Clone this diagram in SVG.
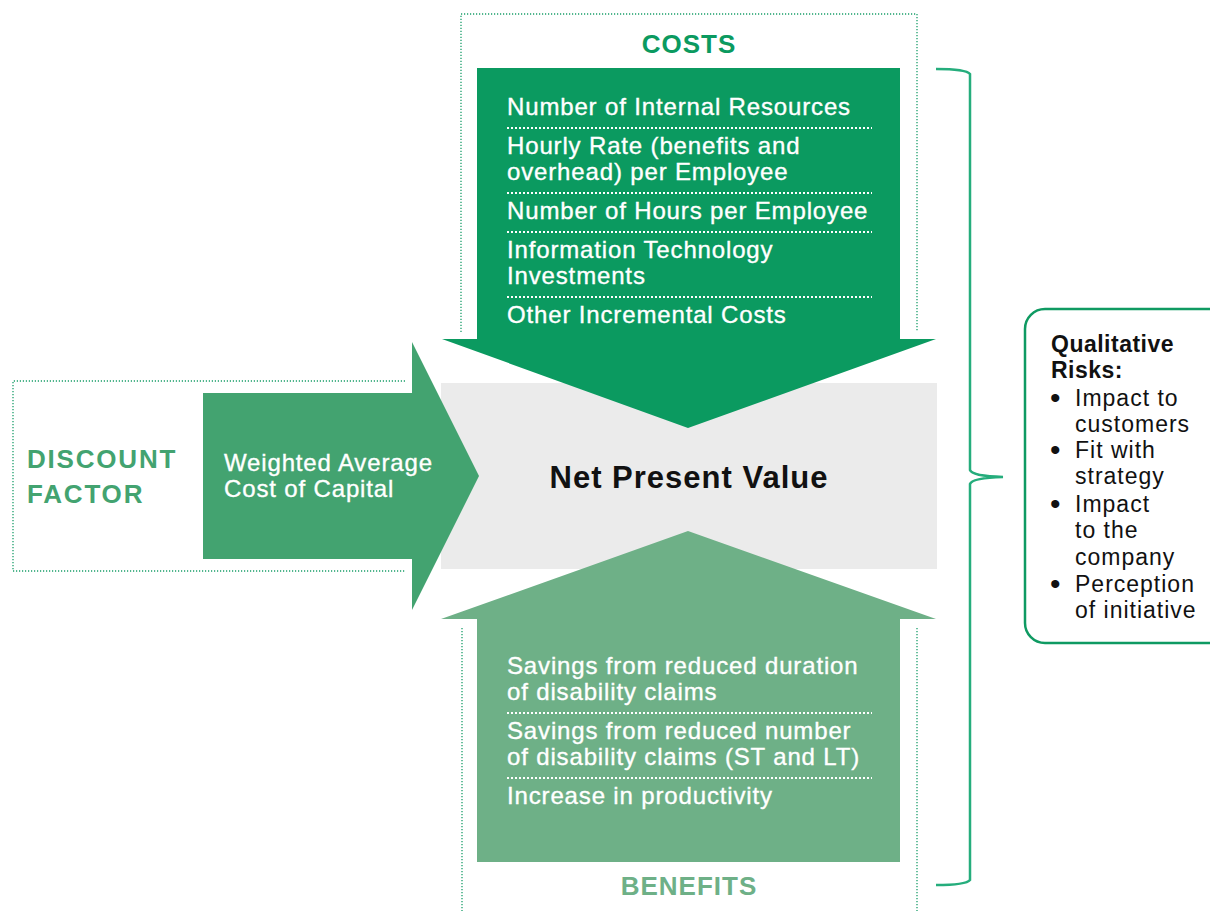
<svg xmlns="http://www.w3.org/2000/svg" width="1210" height="911" viewBox="0 0 1210 911">
<style>
.frame{fill:none;stroke:#1a9e6a;stroke-width:1.3;stroke-dasharray:1.2 1.8}
.sep{fill:none;stroke:#ffffff;stroke-width:2;stroke-dasharray:2 2}
.wt{font-family:"Liberation Sans",Arial,sans-serif;font-size:24px;fill:#ffffff;stroke:#ffffff;stroke-width:0.35;letter-spacing:0.85px}
.hd{font-family:"Liberation Sans",Arial,sans-serif;font-size:26px;font-weight:bold;letter-spacing:1px}
.df{letter-spacing:1.8px}
.rk{font-family:"Liberation Sans",Arial,sans-serif;font-size:23px;fill:#111111;letter-spacing:1px}
.bl{font-family:"Liberation Sans",Arial,sans-serif;font-size:30px;fill:#111111}
.rkb{font-family:"Liberation Sans",Arial,sans-serif;font-size:23px;font-weight:bold;fill:#111111;letter-spacing:0.5px}
</style>
<rect width="1210" height="911" fill="#ffffff"/>

<g id="npv">
<rect x="441" y="383" width="496" height="186" fill="#ebebeb"/>
<text x="689" y="488" text-anchor="middle" font-family="'Liberation Sans',Arial,sans-serif" font-size="31" font-weight="bold" letter-spacing="1" fill="#111111">Net Present Value</text>
</g>

<g id="costs">
<path class="frame" d="M461,332 V14 H917 V332"/>
<text class="hd" x="689" y="53" text-anchor="middle" fill="#0b9a60">COSTS</text>
<path d="M477,68 H900 V339 H936 L688,428 L442,339 H477 Z" fill="#0b9a60"/>
<text class="wt" x="507" y="115">Number of Internal Resources</text>
<line class="sep" x1="507" y1="128" x2="872" y2="128"/>
<text class="wt" x="507" y="154">Hourly Rate (benefits and</text>
<text class="wt" x="507" y="180">overhead) per Employee</text>
<line class="sep" x1="507" y1="193" x2="872" y2="193"/>
<text class="wt" x="507" y="219">Number of Hours per Employee</text>
<line class="sep" x1="507" y1="232" x2="872" y2="232"/>
<text class="wt" x="507" y="258">Information Technology</text>
<text class="wt" x="507" y="284">Investments</text>
<line class="sep" x1="507" y1="297" x2="872" y2="297"/>
<text class="wt" x="507" y="323">Other Incremental Costs</text>
</g>

<g id="discount">
<path class="frame" d="M405,381 H13 V571 H405"/>
<text class="hd df" x="27" y="468" fill="#43a370">DISCOUNT</text>
<text class="hd df" x="27" y="503" fill="#43a370">FACTOR</text>
<path d="M203,393 H412 V342 L479,476 L412,610 V559 H203 Z" fill="#43a370"/>
<text class="wt" x="224" y="471">Weighted Average</text>
<text class="wt" x="224" y="497">Cost of Capital</text>
</g>

<g id="benefits">
<path class="frame" d="M462,628 V911 M917,628 V911"/>
<path d="M688,531 L936,619 H900 V862 H477 V619 H441 Z" fill="#6eb087"/>
<text class="wt" x="507" y="674">Savings from reduced duration</text>
<text class="wt" x="507" y="700">of disability claims</text>
<line class="sep" x1="507" y1="713" x2="872" y2="713"/>
<text class="wt" x="507" y="739">Savings from reduced number</text>
<text class="wt" x="507" y="765">of disability claims (ST and LT)</text>
<line class="sep" x1="507" y1="778" x2="872" y2="778"/>
<text class="wt" x="507" y="804">Increase in productivity</text>
<text class="hd" x="689" y="895" text-anchor="middle" fill="#6eb087">BENEFITS</text>
</g>

<g id="connectors">
<path d="M936,69 Q966,69 970,74 V470 Q972,476 1003,477 Q972,478 970,484 V880 Q966,885 936,885" fill="none" stroke="#25ad7c" stroke-width="2.5"/>
</g>

<g id="risks">
<rect x="1025" y="309" width="215" height="334" rx="20" ry="20" fill="#ffffff" stroke="#0f9a62" stroke-width="2.5"/>
<text class="rkb" x="1051" y="352">Qualitative</text>
<text class="rkb" x="1051" y="378">Risks:</text>
<text class="bl" x="1050" y="408">•</text>
<text class="rk" x="1075" y="406">Impact to</text>
<text class="rk" x="1075" y="432">customers</text>
<text class="bl" x="1050" y="460">•</text>
<text class="rk" x="1075" y="458">Fit with</text>
<text class="rk" x="1075" y="484">strategy</text>
<text class="bl" x="1050" y="514">•</text>
<text class="rk" x="1075" y="512">Impact</text>
<text class="rk" x="1075" y="538">to the</text>
<text class="rk" x="1075" y="565">company</text>
<text class="bl" x="1050" y="594">•</text>
<text class="rk" x="1075" y="592">Perception</text>
<text class="rk" x="1075" y="618">of initiative</text>
</g>
</svg>
